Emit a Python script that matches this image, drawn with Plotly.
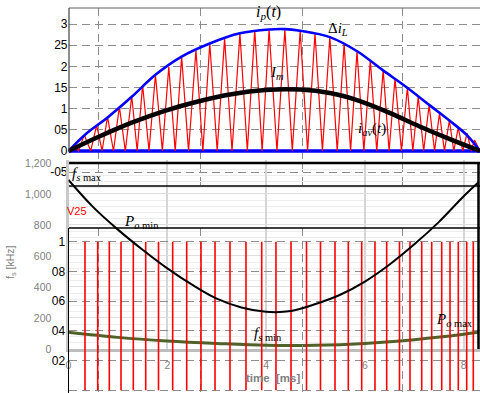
import plotly.graph_objects as go

W, H = 480, 393

# ---------------- data ----------------
# top panel: inductor current vs time [ms]
env_t = [0, 0.33, 0.81, 1.28, 1.76, 2.29, 2.86, 3.47, 4.06, 4.38, 4.69, 5.29, 5.85, 6.36, 6.85, 7.30, 7.71, 8.06, 8.33]
env_v = [0, 0.38, 0.81, 1.28, 1.80, 2.23, 2.54, 2.78, 2.87, 2.88, 2.84, 2.69, 2.35, 1.91, 1.50, 1.09, 0.72, 0.38, 0]

avg_t = [0, 0.6, 1.28, 1.95, 2.62, 3.30, 3.98, 4.69, 5.29, 5.90, 6.50, 7.11, 7.72, 8.33]
avg_v = [0, 0.33, 0.67, 0.95, 1.17, 1.34, 1.44, 1.45, 1.37, 1.18, 0.90, 0.58, 0.28, 0]

valley_t = [0, 0.2, 0.45, 0.68, 0.91, 1.15, 1.39, 1.63, 1.90, 2.16, 2.43, 2.72, 3.01, 3.31, 3.62, 3.92, 4.22,
            4.53, 4.84, 5.14, 5.44, 5.71, 5.98, 6.24, 6.49, 6.74, 6.97, 7.19, 7.41, 7.61, 7.80, 7.98, 8.15, 8.33]
peak_t = [0.10, 0.32, 0.57, 0.79, 1.03, 1.28, 1.50, 1.76, 2.03, 2.29, 2.58, 2.86, 3.16, 3.47, 3.77, 4.06, 4.38,
          4.69, 4.99, 5.29, 5.58, 5.84, 6.11, 6.37, 6.61, 6.86, 7.08, 7.30, 7.51, 7.71, 7.89, 8.07, 8.22]
peak_v = [0.12, 0.38, 0.61, 0.81, 1.05, 1.30, 1.56, 1.80, 1.99, 2.23, 2.39, 2.54, 2.66, 2.78, 2.86, 2.87, 2.87,
          2.84, 2.78, 2.69, 2.54, 2.35, 2.15, 1.91, 1.72, 1.50, 1.28, 1.09, 0.89, 0.72, 0.56, 0.42, 0.26]

top_tick_vals = [-0.5, 0, 0.5, 1, 1.5, 2, 2.5, 3]
top_tick_text = ["-05", "0", "05", "1", "15", "2", "25", "3"]
dash_grid_t = [0.617, 2.662, 4.727, 6.751]

# gray chart: switching frequency / power curves
fs_t = [0, 0.5, 1, 1.5, 2, 2.5, 3, 3.5, 4, 4.5, 5, 5.5, 6, 6.5, 7, 7.5, 8, 8.3]
fs_v = [1090, 915, 770, 640, 520, 415, 325, 268, 240, 245, 290, 350, 435, 545, 675, 820, 985, 1075]
po_t = [0, 1, 2, 3, 4, 5, 6, 7, 8, 8.3]
po_v = [108, 75, 52, 36, 24, 24, 36, 60, 95, 108]
gray_y_vals = [0, 200, 400, 600, 800, 1000, 1200]
gray_y_text = ["0", "200", "400", "600", "800", "1,000", "1,200"]
gray_x_vals = [0, 2, 4, 6, 8]
gray_x_text = ["0", "2", "4", "6", "8"]

# gate signal panel
gate_t = [0.334, 0.591, 0.826, 1.063, 1.312, 1.563, 1.822, 2.109, 2.393, 2.682, 2.966, 3.269, 3.593, 3.911,
          4.200, 4.504, 4.818, 5.101, 5.395, 5.664, 5.935, 6.204, 6.441, 6.700, 6.913, 7.150, 7.352, 7.555,
          7.723, 7.891, 8.061, 8.194]
gate_hi, gate_lo = 1, 0
gate_tick_vals = [0, 0.2, 0.4, 0.6, 0.8, 1]
gate_tick_text = ["0", "02", "04", "06", "08", "1"]

# ---------------- helpers ----------------
def px(x):
    return x / W

def py(y):
    return 1 - y / H

XD = [px(68.5), 1.0]
T_RANGE = [0, 8.33]
DASH = "8px,5px"
DGRID = "#8c8c8c"

saw_x, saw_y = [], []
for i, pt in enumerate(peak_t):
    saw_x += [valley_t[i], pt]
    saw_y += [0, peak_v[i]]
saw_x.append(valley_t[-1])
saw_y.append(0)

gx, gy = [], []
for t in gate_t:
    gx += [t, t, None]
    gy += [gate_hi, gate_lo, None]

fig = go.Figure()
# top panel
fig.add_trace(go.Scatter(x=[T_RANGE[0], T_RANGE[1]], y=[0, 0], mode="lines",
                         line=dict(color="#0000ff", width=3.5), xaxis="x", yaxis="y"))
fig.add_trace(go.Scatter(x=saw_x, y=saw_y, mode="lines",
                         line=dict(color="#ff0000", width=1.2), xaxis="x", yaxis="y"))
fig.add_trace(go.Scatter(x=env_t, y=env_v, mode="lines", line_shape="spline",
                         line=dict(color="#0000ff", width=2.6), xaxis="x", yaxis="y"))
fig.add_trace(go.Scatter(x=avg_t, y=avg_v, mode="lines", line_shape="spline",
                         line=dict(color="#000000", width=4.5), xaxis="x", yaxis="y"))
# gray chart (x2/y2): olive power curve
fig.add_trace(go.Scatter(x=po_t, y=po_v, mode="lines", line_shape="spline",
                         line=dict(color="#4f6228", width=3), xaxis="x2", yaxis="y2"))
# gate panel (x3/y3)
fig.add_trace(go.Scatter(x=gx, y=gy, mode="lines",
                         line=dict(color="#ff0000", width=1.6), xaxis="x3", yaxis="y3"))
# frequency curve on gray chart scale, drawn on top (x4/y4)
fig.add_trace(go.Scatter(x=fs_t, y=fs_v, mode="lines", line_shape="spline",
                         line=dict(color="#000000", width=2), xaxis="x4", yaxis="y4"))

blackfont = dict(family="Liberation Sans, Arial", size=12, color="#000000")
grayfont = dict(family="Liberation Sans, Arial", size=10.5, color="#7f7f7f")

fig.update_layout(
    width=W, height=H, margin=dict(l=0, r=0, t=0, b=0, autoexpand=False),
    paper_bgcolor="#ffffff", plot_bgcolor="rgba(0,0,0,0)", showlegend=False,
    xaxis=dict(domain=XD, range=T_RANGE, anchor="y", tickvals=dash_grid_t, showticklabels=False,
               showgrid=True, griddash=DASH, gridcolor=DGRID, gridwidth=1, zeroline=False,
               showline=False, ticks=""),
    yaxis=dict(domain=[py(186), py(8)], range=[-0.827, 3.378], anchor="x", tickvals=top_tick_vals,
               ticktext=top_tick_text, tickfont=blackfont, showgrid=True, griddash=DASH,
               gridcolor=DGRID, gridwidth=1, zeroline=False, showline=False, ticks=""),
    xaxis2=dict(domain=XD, range=T_RANGE, anchor="y2", tickvals=gray_x_vals, ticktext=gray_x_text,
                tickfont=grayfont, showgrid=True, gridcolor="#d6d6d6", gridwidth=1.5, zeroline=False,
                showline=True, linecolor="#bdbdbd", linewidth=2.5, ticks="", ticklabelstandoff=5),
    yaxis2=dict(domain=[py(349), py(160)], range=[0, 1219], anchor="x2", tickvals=gray_y_vals,
                ticktext=gray_y_text, tickfont=grayfont, showgrid=True, gridcolor="#dedede",
                gridwidth=1, minor=dict(dtick=40, showgrid=True, gridcolor="#ededed", gridwidth=1),
                zeroline=False, showline=True, linecolor="#c8c8c8", linewidth=3, ticks="",
                ticklabelstandoff=12),
    xaxis3=dict(domain=XD, range=T_RANGE, anchor="y3", tickvals=dash_grid_t, showticklabels=False,
                showgrid=True, griddash=DASH, gridcolor=DGRID, gridwidth=1, zeroline=False,
                showline=False, ticks=""),
    yaxis3=dict(domain=[0, py(228)], range=[-0.019, 1.092], anchor="x3", tickvals=gate_tick_vals,
                ticktext=gate_tick_text, tickfont=blackfont, showgrid=True, griddash=DASH,
                gridcolor=DGRID, gridwidth=1, zeroline=False, showline=True, linecolor="#000000",
                linewidth=1, ticks=""),
    xaxis4=dict(domain=XD, range=T_RANGE, anchor="y4", visible=False),
    yaxis4=dict(domain=[py(349), py(160)], range=[0, 1219], anchor="x4", visible=False),
)

def hline(y, x0, x1, color, width):
    fig.add_shape(type="line", xref="paper", yref="paper", x0=px(x0), x1=px(x1), y0=py(y), y1=py(y),
                  line=dict(color=color, width=width), layer="above")

def vline(x, y0, y1, color, width):
    fig.add_shape(type="line", xref="paper", yref="paper", x0=px(x), x1=px(x), y0=py(y0), y1=py(y1),
                  line=dict(color=color, width=width), layer="above")

hline(8, 69, 480, "#606060", 1)
vline(69, 8, 152, "#404040", 1.2)
hline(163, 69, 480, "#000000", 2.5)
hline(186, 69, 480, "#000000", 1.3)
hline(228, 69, 480, "#000000", 1.3)
vline(478.5, 162, 349, "#000000", 2.5)

serif = "Liberation Serif, Times New Roman, serif"

def note(text, x, y, size=15, color="#000000", family=serif, angle=0):
    fig.add_annotation(text=text, x=px(x), y=py(y), xref="paper", yref="paper", showarrow=False,
                       xanchor="center", yanchor="middle", textangle=angle,
                       font=dict(family=family, size=size, color=color))

note("<i>i</i><sub><i>p</i></sub>(<i>t</i>)", 268, 12, 16)
note("Δ<i>i</i><sub><i>L</i></sub>", 338, 29, 15)
note("<i>I</i><sub><i>m</i></sub>", 277, 73, 15)
note("<i>i</i><sub><i>av</i></sub>(<i>t</i>)", 372, 129, 15)
note("<i>f</i><sub><i>s</i> max</sub>", 87, 174, 15)
note("<i>P</i><sub><i>o</i> min</sub>", 141, 222, 15)
note("<i>f</i><sub><i>s</i> min</sub>", 268, 334, 15)
note("<i>P</i><sub><i>o</i> max</sub>", 454, 320, 15)
note("V25", 77, 211, 11, "#ff0000", "Liberation Sans, Arial")
note("<b>time  [ms]</b>", 273, 378, 11.5, "#7f7f7f", "Liberation Sans, Arial")
note("f<sub>s</sub> [kHz]", 11, 262, 10.5, "#7f7f7f", "Liberation Sans, Arial", -90)

fig.write_html("out.html", config={"displayModeBar": False},
               post_script="document.body.style.margin='0px';")
